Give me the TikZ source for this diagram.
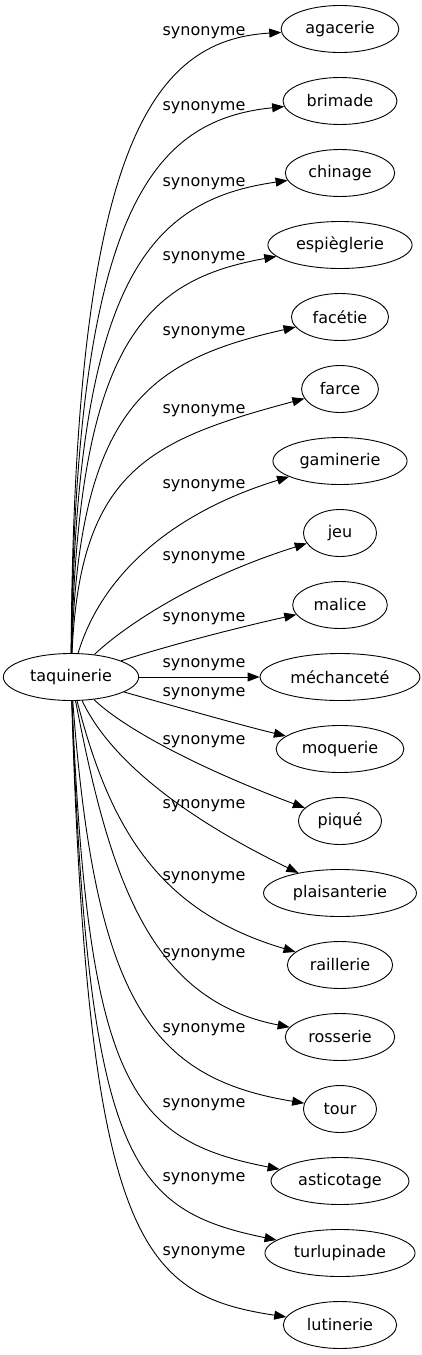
\documentclass[tikz,border=0pt]{standalone}
\usepackage{fontspec}
\setmainfont{DejaVu Sans}
\usetikzlibrary{arrows.meta,shapes.geometric}

\newcommand{\wordfont}{\fontsize{16}{18}\selectfont}

\begin{document}
\begin{tikzpicture}[x=1pt, y=-1pt,
  word/.style={ellipse, draw, line width=0.9pt, inner xsep=7pt,
               inner ysep=0pt, minimum height=47pt, minimum width=73pt,
               font=\wordfont},
  rel/.style={inner sep=0pt, font=\wordfont},
  syn/.style={draw, line width=0.9pt, -{Triangle[length=12pt, width=9pt]}},
]
\useasboundingbox (0,0) rectangle (422,1355);

% Source word
\node[word] (taquinerie) at (71,677) {taquinerie};

% Synonyms
\node[word] (agacerie)     at (340,29)   {agacerie};
\node[word] (brimade)      at (340,101)  {brimade};
\node[word] (chinage)      at (340,173)  {chinage};
\node[word] (espieglerie)  at (340,245)  {espièglerie};
\node[word] (facetie)      at (340,317)  {facétie};
\node[word] (farce)        at (340,389)  {farce};
\node[word] (gaminerie)    at (340,461)  {gaminerie};
\node[word] (jeu)          at (340,533)  {jeu};
\node[word] (malice)       at (340,605)  {malice};
\node[word] (mechancete)   at (340,677)  {méchanceté};
\node[word] (moquerie)     at (340,749)  {moquerie};
\node[word] (pique)        at (340,821)  {piqué};
\node[word] (plaisanterie) at (340,893)  {plaisanterie};
\node[word] (raillerie)    at (340,965)  {raillerie};
\node[word] (rosserie)     at (340,1037) {rosserie};
\node[word] (tour)         at (340,1109) {tour};
\node[word] (asticotage)   at (340,1181) {asticotage};
\node[word] (turlupinade)  at (340,1253) {turlupinade};
\node[word] (lutinerie)    at (340,1325) {lutinerie};

% Edges above
\draw[syn] (taquinerie) .. controls (74,150) and (150,40) .. (agacerie);
\draw[syn] (taquinerie) .. controls (75,214) and (150,120) .. (brimade);
\draw[syn] (taquinerie) .. controls (76,278) and (150,200) .. (chinage);
\draw[syn] (taquinerie) .. controls (78,342) and (145,280) .. (espieglerie);
\draw[syn] (taquinerie) .. controls (79,406) and (150,360) .. (facetie);
\draw[syn] (taquinerie) .. controls (80,470) and (150,440) .. (farce);
\draw[syn] (taquinerie) .. controls (100,580) and (165,515) .. (gaminerie);
\draw[syn] (taquinerie) .. controls (120,630) and (190,580) .. (jeu);
\draw[syn] (taquinerie) .. controls (170,645) and (240,627) .. (malice);
\draw[syn] (taquinerie) -- (mechancete);

% Edges below
\draw[syn] (taquinerie) .. controls (170,705) and (240,725) .. (moquerie);
\draw[syn] (taquinerie) .. controls (120,725) and (190,765) .. (pique);
\draw[syn] (taquinerie) .. controls (110,760) and (185,818) .. (plaisanterie);
\draw[syn] (taquinerie) .. controls (110,830) and (160,912) .. (raillerie);
\draw[syn] (taquinerie) .. controls (110,880) and (150,1000) .. (rosserie);
\draw[syn] (taquinerie) .. controls (95,1000) and (150,1078) .. (tour);
\draw[syn] (taquinerie) .. controls (88,1085) and (130,1140) .. (asticotage);
\draw[syn] (taquinerie) .. controls (88,1160) and (130,1210) .. (turlupinade);
\draw[syn] (taquinerie) .. controls (88,1240) and (140,1295) .. (lutinerie);

% Edge labels
\node[rel] (l-agacerie)     at (204,33)   {synonyme};
\node[rel] (l-brimade)      at (204,108)  {synonyme};
\node[rel] (l-chinage)      at (204,184)  {synonyme};
\node[rel] (l-espieglerie)  at (204,258)  {synonyme};
\node[rel] (l-facetie)      at (204,333)  {synonyme};
\node[rel] (l-farce)        at (204,411)  {synonyme};
\node[rel] (l-gaminerie)    at (204,486)  {synonyme};
\node[rel] (l-jeu)          at (204,558)  {synonyme};
\node[rel] (l-malice)       at (204,619)  {synonyme};
\node[rel] (l-mechancete)   at (204,665)  {synonyme};
\node[rel] (l-moquerie)     at (204,694)  {synonyme};
\node[rel] (l-pique)        at (204,742)  {synonyme};
\node[rel] (l-plaisanterie) at (204,806)  {synonyme};
\node[rel] (l-raillerie)    at (204,878)  {synonyme};
\node[rel] (l-rosserie)     at (204,955)  {synonyme};
\node[rel] (l-tour)         at (204,1030) {synonyme};
\node[rel] (l-asticotage)   at (204,1105) {synonyme};
\node[rel] (l-turlupinade)  at (204,1179) {synonyme};
\node[rel] (l-lutinerie)    at (204,1253) {synonyme};

\end{tikzpicture}
\end{document}
